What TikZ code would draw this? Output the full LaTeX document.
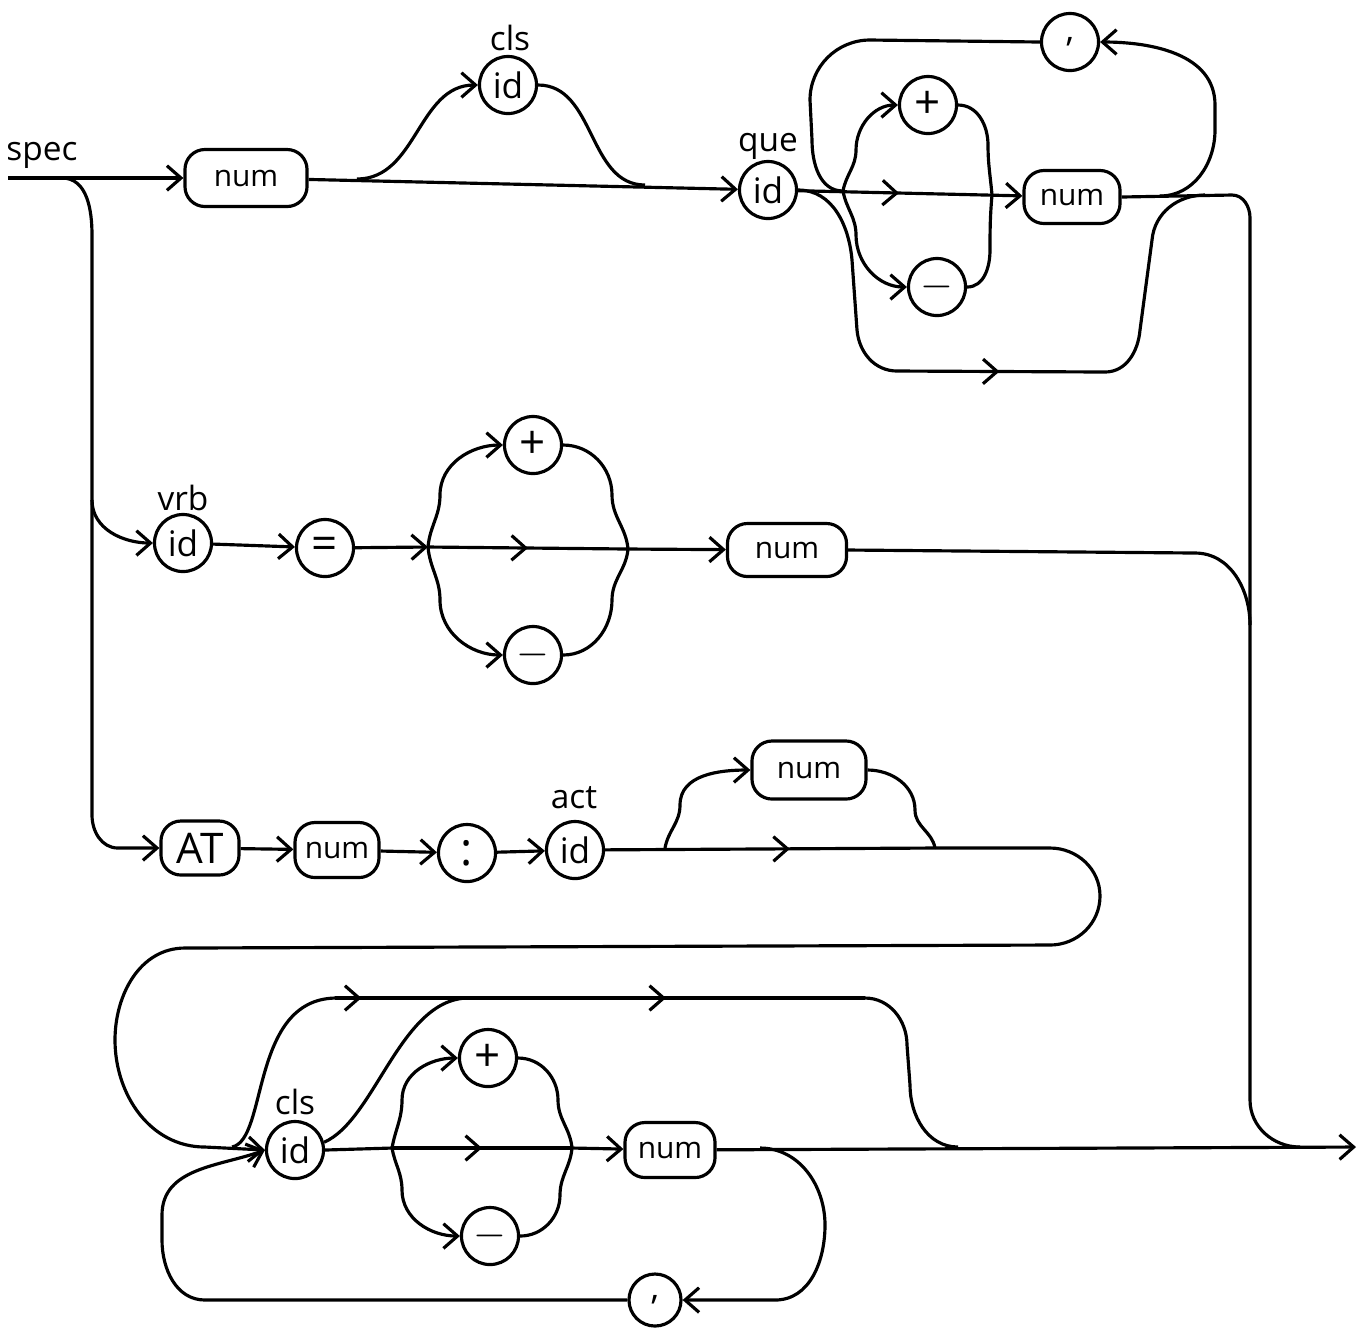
\documentclass[tikz,border=0pt]{standalone}
\usepackage{fontspec}
\setmainfont{Open Sans}
\usetikzlibrary{arrows.meta,decorations.markings}
\begin{document}
\begin{tikzpicture}[x=0.01cm,y=-0.01cm,
  line width=0.9pt,
  >={Straight Barb[length=4pt,width=7pt]},
  box/.style={draw,rectangle,rounded corners=0.2cm,inner sep=0pt,font=\fontsize{8.5}{10}\selectfont},
  circ/.style={draw,circle,minimum size=0.57cm,inner sep=0pt,font=\fontsize{10}{11}\selectfont},
  sign/.style={circ,font=\fontsize{13}{14}\selectfont},
  lab/.style={inner sep=0pt,font=\fontsize{9.5}{10}\selectfont},
  midarr/.style={postaction={decorate},decoration={markings,mark=at position #1 with {\arrow{>}}}},
  midarr/.default=0.5]
\useasboundingbox (0,0) rectangle (1358,1332);

% ---------- row 1 ----------
\coordinate (start) at (8,178);
\coordinate (sb) at (62,178);
\node[lab] (lspec) at (42,155) {spec};
\node[box,minimum width=1.22cm,minimum height=0.57cm] (num1) at (246,178) {num};
\node[circ] (cls1) at (508,85) {id};
\node[lab] (lcls1) at (510,38) {cls};
\node[circ] (que) at (768,190) {id};
\node[lab] (lque) at (768,146) {que};
\node[sign] (plus1) at (928,105) {+};
\node[sign] (minus1) at (937,287) {$-$};
\node[circ] (comma1) at (1070,42) {,};
\node[box,minimum width=0.96cm,minimum height=0.53cm] (num2) at (1072,197) {num};
\coordinate (b1) at (357,179);
\coordinate (j1) at (645,185);
\coordinate (b2) at (843,191);
\coordinate (j2) at (992,195);
\coordinate (lp1) at (1160,196);

\draw[->] (start) -- (num1);
\draw[->] (num1) -- (que);
\draw[->] (b1) to[out=0,in=180] (cls1.west);
\draw (cls1.east) to[out=0,in=180] (j1);
\draw[->,midarr=0.45] (que) -- (num2);
\draw[->] (b2) to[out=80,in=-90] (856,150) to[out=90,in=180] (plus1.west);
\draw[->] (b2) to[out=-80,in=90] (856,235) to[out=-90,in=180] (minus1.west);
\draw (plus1.east) to[out=0,in=90] (988,145) to[out=-90,in=95] (j2);
\draw (minus1.east) to[out=0,in=-90] (990,250) to[out=90,in=-95] (j2);
\draw[->] (lp1) to[out=0,in=-90] (1215,130) -- (1215,105) to[out=90,in=0] (comma1.east);
\draw (comma1.west) -- (870,40) to[out=180,in=90] (810,100) -- (812,140) to[out=-90,in=180] (b2);
\draw[midarr=0.5] (que.east) to[out=0,in=95] (852,260) -- (857,330) to[out=-85,in=180] (897,371) -- (1105,372) to[out=0,in=-95] (1140,330) -- (1152,240) to[out=85,in=180] (1205,195);
\draw (num2.east) -- (1232,195) to[out=0,in=90] (1250,218) -- (1250,1100) to[out=-90,in=180] (1300,1147);

% ---------- row 2 ----------
\node[circ] (vrb) at (183,543) {id};
\node[lab] (lvrb) at (183,498) {vrb};
\node[sign] (eq) at (325,548) {=};
\node[sign] (plus2) at (533,445) {+};
\node[sign] (minus2) at (533,655) {$-$};
\node[box,minimum width=1.19cm,minimum height=0.53cm] (num3) at (787,550) {num};
\coordinate (b3) at (428,547);
\coordinate (j3) at (628,549);

\draw[->] (92,500) to[out=-90,in=180] (vrb.west);
\draw[->] (vrb) -- (eq);
\draw[->] (eq) -- (b3);
\draw[midarr=0.5] (b3) -- (j3);
\draw[->] (j3) -- (num3);
\draw[->] (b3) to[out=85,in=-90] (440,495) to[out=90,in=180] (plus2.west);
\draw[->] (b3) to[out=-85,in=90] (440,600) to[out=-90,in=180] (minus2.west);
\draw (plus2.east) to[out=0,in=90] (612,495) to[out=-90,in=95] (j3);
\draw (minus2.east) to[out=0,in=-90] (612,600) to[out=90,in=-95] (j3);
\draw (num3.east) -- (1195,553) to[out=0,in=90] (1250,625);

% ---------- row 3 ----------
\node[box,minimum width=0.78cm,minimum height=0.54cm,font=\fontsize{12}{14}\selectfont] (AT) at (200,848) {AT};
\node[box,minimum width=0.84cm,minimum height=0.55cm] (num4) at (337,850) {num};
\node[sign] (colon) at (467,853) {:};
\node[circ] (act) at (575,850) {id};
\node[lab] (lact) at (574,798) {act};
\node[box,minimum width=1.14cm,minimum height=0.58cm] (num5) at (809,770) {num};
\coordinate (b4) at (665,848);
\coordinate (j4) at (935,848);

\draw[->] (sb) to[out=0,in=90] (92,235) -- (92,815) to[out=-90,in=180] (118,848) -- (AT);
\draw[->] (AT) -- (num4);
\draw[->] (num4) -- (colon);
\draw[->] (colon) -- (act);
\draw[midarr=0.56] (act) -- (j4);
\draw[->] (b4) to[out=80,in=-90] (680,805) to[out=90,in=180] (num5.west);
\draw (num5.east) to[out=0,in=90] (915,810) to[out=-90,in=100] (j4);

% ---------- row 4 ----------
\node[circ] (cls2) at (295,1150) {id};
\node[lab] (lcls2) at (295,1102) {cls};
\node[sign] (plus3) at (488,1058) {+};
\node[sign] (minus3) at (490,1236) {$-$};
\node[box,minimum width=0.9cm,minimum height=0.55cm] (num6) at (670,1150) {num};
\node[circ,minimum size=0.52cm] (comma2) at (655,1300) {,};
\coordinate (e4) at (232,1147);
\coordinate (b5) at (392,1148);
\coordinate (j5) at (572,1148);
\coordinate (lp4) at (760,1148);
\coordinate (ta) at (335,998);
\coordinate (bj) at (467,998);
\coordinate (tb) at (865,998);
\coordinate (endc) at (1356,1147);

\draw[->] (j4) -- (1050,848) to[out=0,in=90] (1100,896) to[out=-90,in=0] (1050,945) -- (185,948) to[out=180,in=90] (115,1040) to[out=-90,in=180] (205,1147) -- (cls2.west);
\draw (cls2.east) -- (b5);
\draw[midarr=0.5] (b5) -- (j5);
\draw[->] (j5) -- (num6);
\draw[->] (b5) to[out=80,in=-90] (402,1100) to[out=90,in=180] (plus3.west);
\draw[->] (b5) to[out=-80,in=90] (402,1190) to[out=-90,in=180] (minus3.west);
\draw (plus3.east) to[out=0,in=90] (558,1100) to[out=-90,in=95] (j5);
\draw (minus3.east) to[out=0,in=-90] (560,1195) to[out=90,in=-95] (j5);
\draw[->] (num6) -- (endc);
\draw[->] (lp4) to[out=0,in=90] (825,1225) to[out=-90,in=0] (775,1300) -- (comma2.east);
\draw[->] (comma2.west) -- (205,1300) to[out=180,in=-90] (162,1240) -- (162,1215) to[out=90,in=200] (cls2.west);
\draw (e4) .. controls (268,1140) and (250,1000) .. (ta);
\draw[midarr=0.2] (ta) -- (bj);
\draw (cls2.15) .. controls (375,1120) and (400,1000) .. (bj);
\draw[midarr=0.5] (bj) -- (tb);
\draw (tb) to[out=0,in=90] (907,1045) -- (910,1085) to[out=-90,in=180] (958,1147);
\end{tikzpicture}
\end{document}
